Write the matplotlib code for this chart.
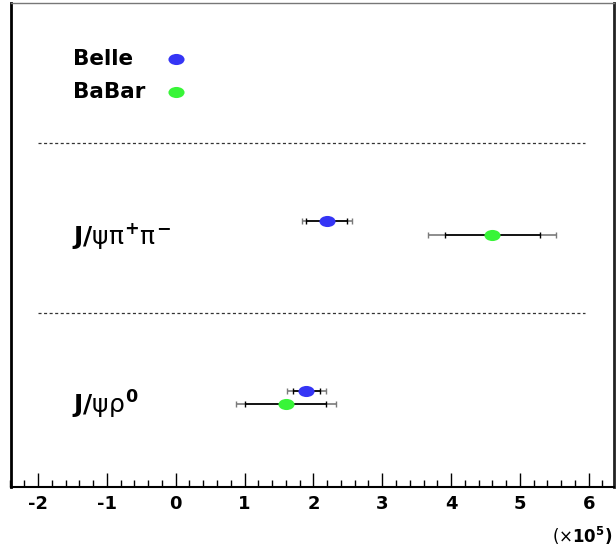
#!/usr/bin/env python3
"""
Belle vs BaBar branching fractions for J/psi pi+ pi- and J/psi rho0
"""

import matplotlib
matplotlib.use('Agg')
import matplotlib.pyplot as plt
from matplotlib.markers import MarkerStyle
from matplotlib.transforms import Affine2D
from matplotlib.ticker import MultipleLocator

plt.rcParams['font.family'] = ['DejaVu Sans']
plt.rcParams['mathtext.fontset'] = 'custom'
plt.rcParams['mathtext.rm'] = 'DejaVu Sans'
plt.rcParams['mathtext.it'] = 'DejaVu Sans'
plt.rcParams['mathtext.bf'] = 'DejaVu Sans:bold'
plt.rcParams['axes.unicode_minus'] = False
plt.rcParams['lines.scale_dashes'] = False

# data (units of 1e5), two channels
channels = [r'$\mathbf{J/}\psi\pi^{\mathbf{+}}\pi^{\mathbf{-}}$', r'$\mathbf{J/}\psi\rho^{\mathbf{0}}$']
experiments = ['Belle', 'BaBar']
belle_val = [2.2, 1.9]
belle_stat_lo = [0.30, 0.20]
belle_stat_hi = [0.29, 0.20]
belle_tot_lo = [0.36, 0.28]
belle_tot_hi = [0.36, 0.28]
babar_val = [4.6, 1.6]
babar_stat_lo = [0.69, 0.60]
babar_stat_hi = [0.69, 0.59]
babar_tot_lo = [0.93, 0.72]
babar_tot_hi = [0.92, 0.73]
colors = {'Belle': '#3535f5', 'BaBar': '#38f538'}

# vertical layout (fraction of axes height, from top)
row_y = {'Belle': [0.450, 0.801], 'BaBar': [0.479, 0.828]}
label_y = [0.481, 0.831]
legend_y = {'Belle': 0.116, 'BaBar': 0.184}
sep_y = [0.289, 0.640]

fig = plt.figure(figsize=(6.16, 5.48), dpi=100)
ax = fig.add_axes([10.5 / 616, 1 - 487 / 548, 603 / 616, 484 / 548])
ax.set_xlim(-2.4, 6.36)
ax.set_ylim(1, 0)

ellipse = MarkerStyle('o', transform=Affine2D().scale(1.45, 1.0))

# separators
for y in sep_y:
    ax.plot([-2.0, 5.95], [y, y], color='#333333', lw=0.9, dashes=(2.2, 1.8))

# legend
for exp in experiments:
    ax.text(-1.49, legend_y[exp], exp, fontsize=15.5, fontweight='bold',
            ha='left', va='center')
    ax.plot(0, legend_y[exp], marker=ellipse, ms=8, mew=0, color=colors[exp],
            ls='none')

# channel labels
for lab, y in zip(channels, label_y):
    ax.text(-1.50, y, lab, fontsize=18, ha='left', va='center')

# points with stat (inner) and total (outer) errors
series = [
    ('Belle', belle_val, belle_stat_lo, belle_stat_hi, belle_tot_lo, belle_tot_hi),
    ('BaBar', babar_val, babar_stat_lo, babar_stat_hi, babar_tot_lo, babar_tot_hi),
]
for exp, val, slo, shi, tlo, thi in series:
    ys = row_y[exp]
    ax.errorbar(val, ys, xerr=[tlo, thi], fmt='none', ecolor='#7a7a7a',
                elinewidth=1.2, capsize=2.0, capthick=1.0)
    ax.errorbar(val, ys, xerr=[slo, shi], fmt='none', ecolor='black',
                elinewidth=1.2, capsize=2.0, capthick=1.0)
    ax.plot(val, ys, marker=ellipse, ms=8, mew=0, color=colors[exp], ls='none',
            zorder=5)

# frame
ax.spines['left'].set_linewidth(2.0)
ax.spines['right'].set_linewidth(2.0)
ax.spines['right'].set_color('#222222')
ax.spines['top'].set_linewidth(1.0)
ax.spines['top'].set_color('#777777')
ax.spines['bottom'].set_linewidth(1.5)

ax.xaxis.set_major_locator(MultipleLocator(1))
ax.xaxis.set_minor_locator(MultipleLocator(0.2))
ax.tick_params(axis='x', which='major', direction='in', length=10, width=1.0,
               pad=6, labelsize=13)
ax.tick_params(axis='x', which='minor', direction='in', length=5, width=1.0)
ax.tick_params(axis='y', which='both', left=False, labelleft=False)
for t in ax.get_xticklabels():
    t.set_fontweight('bold')

fig.text(612 / 616, 1 - 536 / 548, r'$(\times\mathbf{10^{5})}$',
         fontsize=12, ha='right', va='center')

plt.savefig('out.png', dpi=100)
plt.close()
